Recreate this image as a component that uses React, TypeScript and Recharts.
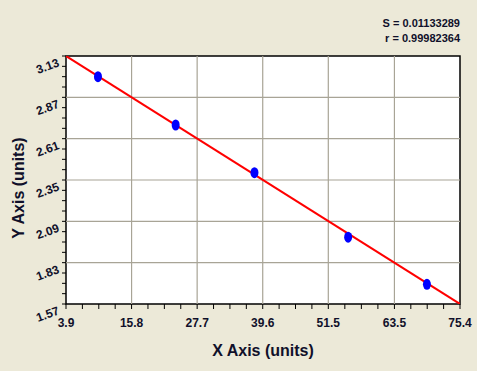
import React from 'react';
import { ComposedChart, XAxis, YAxis, Scatter, Line, ReferenceArea, ReferenceLine } from 'recharts';

const xMajorTicks = [3.9, 15.8, 27.7, 39.6, 51.5, 63.5, 75.4];
const yMajorTicks = [1.57, 1.83, 2.09, 2.35, 2.61, 2.87, 3.13];
const pointX = [9.7, 23.8, 38.1, 55.1, 69.4];
const pointY = [3.0, 2.696, 2.396, 1.99, 1.694];
const fitX = [3.9, 75.4];
const fitY = [3.13, 1.57];
const statS = 'S = 0.01133289';
const statR = 'r = 0.99982364';

const points = pointX.map((x, i) => ({ x, y: pointY[i] }));
const fitLine = fitX.map((x, i) => ({ x, y: fitY[i] }));

function withMinors(majors: number[]) {
  const out: number[] = [];
  for (let i = 0; i < majors.length; i++) {
    out.push(majors[i]);
    if (i < majors.length - 1) {
      const a = majors[i];
      const b = majors[i + 1];
      for (let k = 1; k < 4; k++) out.push(a + ((b - a) * k) / 4);
    }
  }
  return out;
}
const xTicks = withMinors(xMajorTicks);
const yTicks = withMinors(yMajorTicks);
const xMajorSet = new Set(xMajorTicks);
const yMajorSet = new Set(yMajorTicks);

const FONT = '"Liberation Sans", Arial, sans-serif';
const LABEL_COLOR = '#10102a';

const XTick = (props: any) => {
  const { x, y, payload } = props;
  const major = xMajorSet.has(payload.value);
  return (
    <g>
      <line x1={x} y1={y} x2={x} y2={y + 5} stroke="#000" strokeWidth={1} />
      {major && (
        <text x={x} y={y + 23} textAnchor="middle" fontFamily={FONT} fontWeight="bold" fontSize={12} fill={LABEL_COLOR}>
          {payload.value.toFixed(1)}
        </text>
      )}
    </g>
  );
};

const YTick = (props: any) => {
  const { x, y, payload } = props;
  const major = yMajorSet.has(payload.value);
  const tx = x - 6;
  const ty = y + 10;
  return (
    <g>
      <line x1={x} y1={y} x2={x - 4} y2={y} stroke="#000" strokeWidth={1} />
      {major && (
        <text x={tx} y={ty} textAnchor="end" fontFamily={FONT} fontWeight="bold" fontSize={12} fill={LABEL_COLOR} transform={`rotate(-20, ${tx}, ${ty})`}>
          {payload.value.toFixed(2)}
        </text>
      )}
    </g>
  );
};

const Dot = (props: any) => {
  const { cx, cy } = props;
  return <ellipse cx={cx} cy={cy} rx={4} ry={5.5} fill="#0000ff" />;
};

export default function App() {
  return (
    <div style={{ position: 'absolute', left: 0, top: 0, width: 489, height: 371, background: '#ffffff', fontFamily: FONT }}>
      <div style={{ position: 'absolute', left: 0, top: 0, width: 477, height: 371, background: '#ece9d8' }} />
      <div style={{ position: 'absolute', left: 0, top: 0 }}>
        <ComposedChart width={489} height={371} margin={{ top: 56, right: 29, bottom: 0, left: 0 }}>
          <XAxis
            type="number"
            dataKey="x"
            domain={[3.9, 75.4]}
            ticks={xTicks}
            interval={0}
            tick={<XTick />}
            tickLine={false}
            tickSize={0}
            tickMargin={0}
            axisLine={false}
            height={67}
            allowDataOverflow
          />
          <YAxis
            type="number"
            dataKey="y"
            domain={[1.57, 3.13]}
            ticks={yTicks}
            interval={0}
            tick={<YTick />}
            tickLine={false}
            tickSize={0}
            tickMargin={0}
            axisLine={false}
            width={66}
            allowDataOverflow
          />
          <ReferenceArea x1={3.9} x2={75.4} y1={1.57} y2={3.13} fill="#ffffff" fillOpacity={1} stroke="none" />
          {xMajorTicks.slice(1, -1).map((v) => (
            <ReferenceLine key={'gx' + v} x={v} stroke="#a8a496" strokeWidth={1.2} />
          ))}
          {yMajorTicks.slice(1, -1).map((v) => (
            <ReferenceLine key={'gy' + v} y={v} stroke="#a8a496" strokeWidth={1.2} />
          ))}
          <ReferenceArea x1={3.9} x2={75.4} y1={1.57} y2={3.13} fill="none" stroke="#000" strokeWidth={1.5} />
          <Line data={fitLine} dataKey="y" type="linear" stroke="#ff0000" strokeWidth={2} dot={false} isAnimationActive={false} />
          <Scatter data={points} dataKey="y" shape={<Dot />} isAnimationActive={false} />
        </ComposedChart>
      </div>
      <div style={{ position: 'absolute', right: 29, top: 16, fontSize: 11, fontWeight: 'bold', color: '#10102a', textAlign: 'right', lineHeight: '15px' }}>
        <div>{statS}</div>
        <div>{statR}</div>
      </div>
      <div style={{ position: 'absolute', left: 66, width: 394, top: 342, textAlign: 'center', fontSize: 16, fontWeight: 'bold', color: '#10102a' }}>
        X Axis (units)
      </div>
      <div style={{ position: 'absolute', left: 19, top: 188, width: 0, height: 0 }}>
        <div style={{ position: 'absolute', left: -80, top: -10, width: 160, textAlign: 'center', fontSize: 16, fontWeight: 'bold', color: '#10102a', transform: 'rotate(-90deg)', lineHeight: '20px' }}>
          Y Axis (units)
        </div>
      </div>
    </div>
  );
}
